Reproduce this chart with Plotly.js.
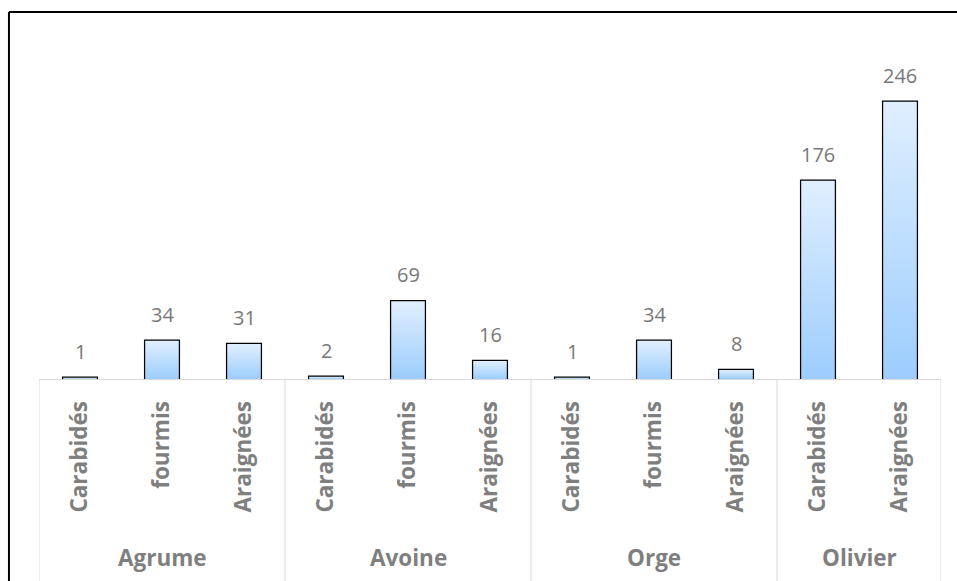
<!DOCTYPE html>
<html>
<head>
<meta charset="utf-8">
<script src="https://cdn.plot.ly/plotly-3.0.1.min.js"></script>
<style>
  html, body { margin: 0; padding: 0; background: #ffffff; overflow: hidden; }
  #chart { width: 957px; height: 581px; }
</style>
</head>
<body>
<div id="chart"></div>
<script>
// Effectifs capturés par culture et par groupe
const cultures = ['Agrume', 'Agrume', 'Agrume', 'Avoine', 'Avoine', 'Avoine', 'Orge', 'Orge', 'Orge', 'Olivier', 'Olivier'];
const groupes = ['Carabidés', 'fourmis', 'Araignées', 'Carabidés', 'fourmis', 'Araignées', 'Carabidés', 'fourmis', 'Araignées', 'Carabidés', 'Araignées'];
const effectifs = [1, 34, 31, 2, 69, 16, 1, 34, 8, 176, 246];

const barWidth = 0.41;
const gradTop = '#e0efff';
const gradBottom = '#9ccdfd';
const grey = '#7f7f7f';
const fontFam = '"Open Sans", "Noto Sans", sans-serif';

const idx = effectifs.map((_, i) => i);

// Gradient fill under each bar (one filled polygon per bar)
const fills = idx.map(i => ({
  type: 'scatter',
  mode: 'lines',
  x: [i - barWidth / 2, i + barWidth / 2, i + barWidth / 2, i - barWidth / 2, i - barWidth / 2],
  y: [0, 0, effectifs[i], effectifs[i], 0],
  fill: 'toself',
  line: { width: 0, color: 'rgba(0,0,0,0)' },
  fillgradient: {
    type: 'vertical',
    start: 0,
    stop: effectifs[i],
    colorscale: [[0, gradBottom], [1, gradTop]]
  },
  hoverinfo: 'skip',
  showlegend: false
}));

// Bars (outline) on top of the gradient fills
const bars = {
  type: 'bar',
  x: idx,
  y: effectifs,
  width: barWidth,
  marker: { color: 'rgba(0,0,0,0)', line: { color: '#000000', width: 2.5 } },
  customdata: cultures.map((c, i) => c + ' – ' + groupes[i]),
  hovertemplate: '%{customdata}: %{y}<extra></extra>',
  showlegend: false
};

// Value labels above bars
const valueLabels = idx.map(i => ({
  x: i, y: effectifs[i], xref: 'x', yref: 'y',
  text: String(effectifs[i]),
  showarrow: false,
  yanchor: 'bottom',
  yshift: 11,
  font: { family: fontFam, size: 20, color: '#787878' }
}));

// Group spans along the axis
const spans = [];
cultures.forEach((c, i) => {
  if (i === 0 || cultures[i - 1] !== c) spans.push({ name: c, start: i, end: i });
  else spans[spans.length - 1].end = i;
});

const groupLabels = spans.map(s => ({
  x: (s.start + s.end) / 2, y: -0.527, xref: 'x', yref: 'paper',
  text: '<b>' + s.name + '</b>',
  showarrow: false,
  yanchor: 'middle',
  font: { family: fontFam, size: 22.5, color: grey }
}));

const dividerPos = [spans[0].start - 0.5].concat(spans.map(s => s.end + 0.5));
const dividers = dividerPos.map(p => ({
  type: 'line', xref: 'x', yref: 'paper',
  x0: p, x1: p, y0: 0, y1: -0.7,
  line: { color: '#d9d9d9', width: 1 }
}));

// Outer chart frame: left and top edges (the rest lies outside the page)
const frameLeft = -0.0333, frameTop = 1.0858;
const frame = [
  { type: 'line', xref: 'paper', yref: 'paper',
    x0: frameLeft, x1: frameLeft, y0: -0.7, y1: frameTop,
    line: { color: '#000000', width: 2 } },
  { type: 'line', xref: 'paper', yref: 'paper',
    x0: frameLeft, x1: 1.05, y0: frameTop, y1: frameTop,
    line: { color: '#000000', width: 2 } }
];

const layout = {
  width: 957,
  height: 581,
  margin: { l: 39, r: 16, t: 41, b: 202 },
  paper_bgcolor: '#ffffff',
  plot_bgcolor: '#ffffff',
  showlegend: false,
  xaxis: {
    range: [-0.5, effectifs.length - 0.5],
    tickmode: 'array',
    tickvals: idx,
    ticktext: groupes.map(g => '<b>' + g + '</b>'),
    tickangle: -90,
    ticks: '',
    ticklabelstandoff: 12,
    tickfont: { family: fontFam, size: 22.5, color: grey },
    showline: true,
    linecolor: '#d9d9d9',
    linewidth: 1,
    showgrid: false,
    zeroline: false,
    fixedrange: true
  },
  yaxis: {
    range: [0, 300],
    visible: false,
    showgrid: false,
    zeroline: false,
    fixedrange: true
  },
  annotations: valueLabels.concat(groupLabels),
  shapes: dividers.concat(frame)
};

Plotly.newPlot('chart', fills.concat([bars]), layout, { displayModeBar: false, staticPlot: true });
</script>
</body>
</html>
